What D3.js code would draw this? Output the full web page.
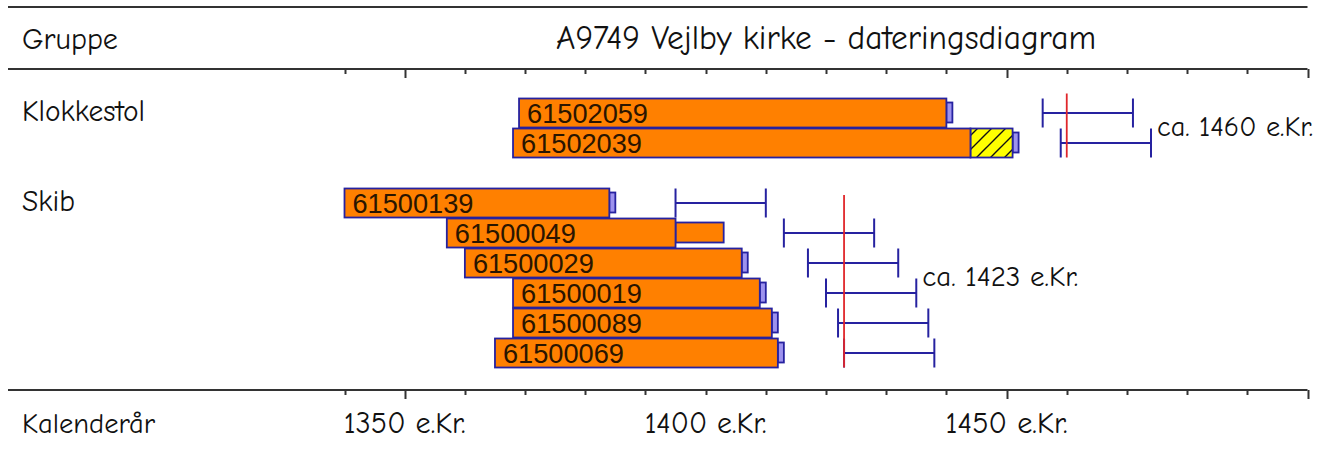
<!DOCTYPE html>
<html>
<head>
<meta charset="utf-8">
<script src="https://cdn.jsdelivr.net/npm/d3@7"></script>
<style>
  html, body { margin: 0; padding: 0; background: #fff; }
  svg { display: block; }
</style>
</head>
<body>
<svg id="chart" width="1325" height="450"></svg>
<script>
// ---------------- data ----------------
const title = "A9749 Vejlby kirke - dateringsdiagram";
const groupHeader = "Gruppe";
const axisHeader = "Kalenderår";
const groups = ["Klokkestol", "Skib"];
const groupDates = [1460, 1423];
const groupDateLabels = ["ca. 1460 e.Kr.", "ca. 1423 e.Kr."];

const sampleIds   = ["61502059", "61502039", "61500139", "61500049", "61500029", "61500019", "61500089", "61500069"];
const sampleGroup = [0, 0, 1, 1, 1, 1, 1, 1];
const sampleRow   = [0, 1, 3, 4, 5, 6, 7, 8];
const startYears  = [1369, 1368, 1340, 1357, 1360, 1368, 1368, 1365];
const endYears    = [1440, 1444, 1384, 1395, 1406, 1409, 1411, 1412];
const sapwoodEnd  = [null, 1451, null, null, null, null, null, null];   // hatched sapwood
const extEnd      = [null, null, null, 1403, null, null, null, null];   // estimated extension
const barkYears   = [1440, 1451, 1384, null, 1406, 1409, 1411, 1412];   // small end marker
const fellingLo   = [1456, 1459, 1395, 1413, 1417, 1420, 1422, 1423];
const fellingHi   = [1471, 1474, 1410, 1428, 1432, 1435, 1437, 1438];

const tickYears = d3.range(1340, 1501, 10);
const majorTickYears = [1350, 1450, 1500];
const tickLabelYears = [1350, 1400, 1450];
const tickLabels = ["1350 e.Kr.", "1400 e.Kr.", "1450 e.Kr."];

// ---------------- layout ----------------
const svg = d3.select("#chart");
const headFont = "'Comic Sans MS', 'Comic Neue', Lato, 'Noto Sans', sans-serif";
const barFont = "'Liberation Sans', Arial, sans-serif";
const blue = "#2622a0";
const lineColor = "#333";

const x = d3.scaleLinear().domain([1340, 1500]).range([344.5, 1307.5]);
const rowH = 29;
const y = d3.scaleLinear().domain([0, 1]).range([98.5, 128.5]);

const lineLeft = 8, lineRight = x(1500);
const topLineY = 7, headAxisY = 69, footAxisY = 390;

function fit(sel, target) {
  sel.each(function() {
    const fs = parseFloat(this.getAttribute("font-size"));
    const len = this.getComputedTextLength();
    if (len > 0) this.setAttribute("font-size", (fs * target / len).toFixed(2));
  });
  return sel;
}

// hatch pattern
const defs = svg.append("defs");
const pat = defs.append("pattern")
  .attr("id", "hatch").attr("patternUnits", "userSpaceOnUse")
  .attr("width", 14).attr("height", 14);
pat.append("rect").attr("width", 14).attr("height", 14).attr("fill", "#ffff00");
pat.append("path").attr("d", "M-2,16 L16,-2 M-7,7 L7,-7 M7,21 L21,7")
  .attr("stroke", "#111").attr("stroke-width", 1.4);

// frame lines
svg.append("line").attr("x1", lineLeft).attr("x2", lineRight).attr("y1", topLineY).attr("y2", topLineY)
  .attr("stroke", lineColor).attr("stroke-width", 2);

function drawAxisLine(yPos) {
  const g = svg.append("g");
  g.append("line").attr("x1", lineLeft).attr("x2", lineRight).attr("y1", yPos).attr("y2", yPos)
    .attr("stroke", lineColor).attr("stroke-width", 2);
  g.selectAll("line.tick").data(tickYears).join("line")
    .attr("class", "tick")
    .attr("x1", d => Math.round(x(d)) + 0.5).attr("x2", d => Math.round(x(d)) + 0.5)
    .attr("y1", yPos).attr("y2", d => yPos + (majorTickYears.includes(d) ? 9 : 5))
    .attr("stroke", lineColor).attr("stroke-width", 2);
}
drawAxisLine(headAxisY);
drawAxisLine(footAxisY);

// headers
fit(svg.append("text").text(groupHeader).attr("x", 22).attr("y", 49)
  .attr("font-family", headFont).attr("font-size", 26).attr("fill", "#111"), 96);
fit(svg.append("text").text(title).attr("x", (x(1340) + x(1500)) / 2).attr("y", 49)
  .attr("text-anchor", "middle")
  .attr("font-family", headFont).attr("font-size", 26).attr("fill", "#111"), 540);

// footer
fit(svg.append("text").text(axisHeader).attr("x", 22).attr("y", 433)
  .attr("font-family", headFont).attr("font-size", 22).attr("fill", "#111"), 133);
fit(svg.selectAll("text.tl").data(tickLabelYears).join("text")
  .attr("class", "tl")
  .attr("x", d => x(d)).attr("y", 433).attr("text-anchor", "middle")
  .attr("font-family", headFont).attr("font-size", 22).attr("fill", "#111")
  .text((d, i) => tickLabels[i]), 122);

// group labels
const groupFirstRow = groups.map((g, gi) => d3.min(sampleRow.filter((r, i) => sampleGroup[i] === gi)));
const groupLastRow  = groups.map((g, gi) => d3.max(sampleRow.filter((r, i) => sampleGroup[i] === gi)));
const groupLabelWidths = [123, 53];
svg.selectAll("text.grp").data(groups).join("text")
  .attr("class", "grp")
  .attr("x", 22).attr("y", (d, i) => y(groupFirstRow[i]) + 22)
  .attr("font-family", headFont).attr("font-size", 22).attr("fill", "#111")
  .text(d => d)
  .each(function(d, i) { fit(d3.select(this), groupLabelWidths[i]); });

// samples
const samples = sampleIds.map((id, i) => ({
  id, i, row: sampleRow[i], s: startYears[i], e: endYears[i],
  sap: sapwoodEnd[i], ext: extEnd[i], bark: barkYears[i],
  lo: fellingLo[i], hi: fellingHi[i]
}));

const sg = svg.append("g");
sg.selectAll("rect.ext").data(samples.filter(d => d.ext !== null)).join("rect")
  .attr("x", d => x(d.e)).attr("width", d => x(d.ext) - x(d.e))
  .attr("y", d => y(d.row) + 4).attr("height", rowH - 9)
  .attr("fill", "#ff8000").attr("stroke", blue).attr("stroke-width", 1.8);
sg.selectAll("rect.bark").data(samples.filter(d => d.bark !== null)).join("rect")
  .attr("x", d => x(d.bark)).attr("width", d => x(d.bark + 1) - x(d.bark))
  .attr("y", d => y(d.row) + 4).attr("height", rowH - 9)
  .attr("fill", "#9d92ee").attr("stroke", blue).attr("stroke-width", 1.8);
sg.selectAll("rect.sap").data(samples.filter(d => d.sap !== null)).join("rect")
  .attr("x", d => x(d.e)).attr("width", d => x(d.sap) - x(d.e))
  .attr("y", d => y(d.row)).attr("height", rowH)
  .attr("fill", "url(#hatch)").attr("stroke", blue).attr("stroke-width", 1.8);
sg.selectAll("rect.bar").data(samples).join("rect")
  .attr("x", d => x(d.s)).attr("width", d => x(d.e) - x(d.s))
  .attr("y", d => y(d.row)).attr("height", rowH)
  .attr("fill", "#ff8000").attr("stroke", blue).attr("stroke-width", 1.8);
sg.selectAll("text.id").data(samples).join("text")
  .attr("x", d => x(d.s) + 8).attr("y", d => y(d.row) + 24)
  .attr("font-family", barFont).attr("font-size", 26).attr("fill", "#2a1500")
  .text(d => d.id)
  .each(function() { fit(d3.select(this), 121); });

// felling ranges
const eg = svg.append("g").attr("stroke", blue).attr("stroke-width", 2).attr("fill", "none");
eg.selectAll("line.h").data(samples).join("line")
  .attr("x1", d => x(d.lo)).attr("x2", d => x(d.hi))
  .attr("y1", d => y(d.row) + rowH / 2).attr("y2", d => y(d.row) + rowH / 2);
eg.selectAll("line.l").data(samples).join("line")
  .attr("x1", d => x(d.lo)).attr("x2", d => x(d.lo))
  .attr("y1", d => y(d.row)).attr("y2", d => y(d.row) + rowH);
eg.selectAll("line.r").data(samples).join("line")
  .attr("x1", d => x(d.hi)).attr("x2", d => x(d.hi))
  .attr("y1", d => y(d.row)).attr("y2", d => y(d.row) + rowH);

// group dating lines and labels
const redTopOffset = [-5, 6.5];
svg.selectAll("line.red").data(groupDates).join("line")
  .attr("x1", d => x(d)).attr("x2", d => x(d))
  .attr("y1", (d, i) => y(groupFirstRow[i]) + redTopOffset[i])
  .attr("y2", (d, i) => y(groupLastRow[i]) + rowH)
  .attr("stroke", "#e0262a").attr("stroke-width", 1.8);

svg.selectAll("text.gd").data(groupDateLabels).join("text")
  .attr("x", (d, i) => {
    const mid = Math.ceil((groupFirstRow[i] + groupLastRow[i]) / 2);
    const k = sampleRow.indexOf(mid);
    return x(fellingHi[k]) + 6;
  })
  .attr("y", (d, i) => (y(groupFirstRow[i]) + y(groupLastRow[i]) + rowH) / 2 + 8)
  .attr("font-family", headFont).attr("font-size", 22).attr("fill", "#111")
  .text(d => d)
  .each(function() { fit(d3.select(this), 156); });
</script>
</body>
</html>
